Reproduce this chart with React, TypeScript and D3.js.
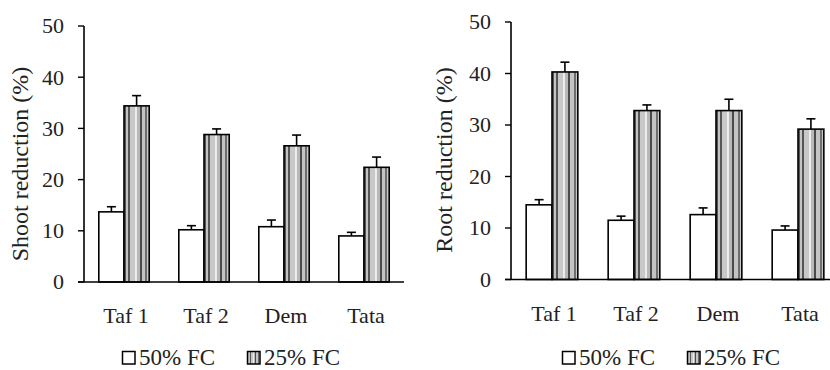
import * as d3 from "d3";

const categories = ["Taf 1", "Taf 2", "Dem", "Tata"];
const seriesNames = ["50% FC", "25% FC"];
const yTicks = [0, 10, 20, 30, 40, 50];

const shoot50 = [13.7, 10.2, 10.8, 9.0];
const shoot50Err = [1.0, 0.8, 1.3, 0.7];
const shoot25 = [34.4, 28.8, 26.6, 22.4];
const shoot25Err = [2.0, 1.1, 2.1, 2.0];

const root50 = [14.5, 11.5, 12.6, 9.6];
const root50Err = [1.0, 0.8, 1.3, 0.8];
const root25 = [40.3, 32.8, 32.8, 29.2];
const root25Err = [1.9, 1.1, 2.2, 2.0];

const FONT = "'Liberation Serif', 'Times New Roman', serif";

// hard-stop grey stripes, like the original vertical-stripe fill
const stripes: [number, number, string][] = [
  [0, 0.08, "#555"],
  [0.08, 0.17, "#c4c4c4"],
  [0.17, 0.25, "#555"],
  [0.25, 0.42, "#c8c8c8"],
  [0.42, 0.52, "#ececec"],
  [0.52, 0.62, "#b8b8b8"],
  [0.62, 0.7, "#4a4a4a"],
  [0.7, 0.84, "#c4c4c4"],
  [0.84, 0.92, "#6e6e6e"],
  [0.92, 1, "#c8c8c8"],
];

type PanelProps = {
  x0: number;
  x1: number;
  yTop: number;
  yBottom: number;
  title: string;
  titleX: number;
  titleY: number;
  v50: number[];
  e50: number[];
  v25: number[];
  e25: number[];
  legendX: number;
};

const Panel = (p: PanelProps) => {
  const x = d3.scaleBand<string>().domain(categories).range([p.x0, p.x1]);
  const y = d3.scaleLinear().domain([0, 50]).range([p.yBottom, p.yTop]);
  const bw = x.step() * 0.315;

  const bars = categories.flatMap((c, i) => {
    const cx = (x(c) ?? 0) + x.bandwidth() / 2;
    return [
      { key: c + "a", x: cx - bw, v: p.v50[i], e: p.e50[i], fill: "#fff" },
      { key: c + "b", x: cx, v: p.v25[i], e: p.e25[i], fill: "url(#stripes)" },
    ];
  });

  return (
    <g>
      {bars.map((b) => (
        <g key={b.key}>
          <line
            x1={b.x + bw / 2}
            x2={b.x + bw / 2}
            y1={y(b.v)}
            y2={y(b.v + b.e)}
            stroke="#000"
            strokeWidth={1.6}
          />
          <line
            x1={b.x + bw / 2 - 4.5}
            x2={b.x + bw / 2 + 4.5}
            y1={y(b.v + b.e)}
            y2={y(b.v + b.e)}
            stroke="#000"
            strokeWidth={1.6}
          />
          <rect
            x={b.x}
            y={y(b.v)}
            width={bw}
            height={y(0) - y(b.v)}
            fill={b.fill}
            stroke="#000"
            strokeWidth={1.6}
          />
        </g>
      ))}

      {/* y axis */}
      <line x1={p.x0} x2={p.x0} y1={y(50)} y2={y(0)} stroke="#000" strokeWidth={1.6} />
      {yTicks.map((t) => (
        <g key={t}>
          <line x1={p.x0 - 6} x2={p.x0} y1={y(t)} y2={y(t)} stroke="#000" strokeWidth={1.4} />
          <text
            x={p.x0 - 20}
            y={y(t)}
            dy="0.34em"
            textAnchor="end"
            fontSize={22}
            fill="#222"
          >
            {t}
          </text>
        </g>
      ))}
      {/* x axis */}
      <line x1={p.x0 - 6} x2={p.x1} y1={y(0)} y2={y(0)} stroke="#000" strokeWidth={1.6} />
      {categories.map((c) => (
        <text
          key={c}
          x={(x(c) ?? 0) + x.bandwidth() / 2 + 2}
          y={p.yBottom + 41}
          textAnchor="middle"
          fontSize={22}
          fill="#222"
        >
          {c}
        </text>
      ))}

      <text
        transform={`translate(${p.titleX},${p.titleY}) rotate(-90)`}
        textAnchor="middle"
        fontSize={24}
        fill="#222"
      >
        {p.title}
      </text>

      {/* legend */}
      {seriesNames.map((s, i) => (
        <g key={s} transform={`translate(${p.legendX + i * 125},351)`}>
          <rect
            x={0.5}
            y={0.5}
            width={12.5}
            height={12.5}
            fill={i === 0 ? "#fff" : "url(#stripes)"}
            stroke="#000"
            strokeWidth={1.5}
          />
          <text x={17} y={14} fontSize={23} fill="#222">
            {s}
          </text>
        </g>
      ))}
    </g>
  );
};

export default function App() {
  return (
    <svg
      width={830}
      height={370}
      style={{ position: "absolute", left: 0, top: 0, background: "#fff" }}
      fontFamily={FONT}
    >
      <defs>
        <linearGradient id="stripes" x1="0" x2="1" y1="0" y2="0">
          {stripes.flatMap(([a, b, c], i) => [
            <stop key={i + "s"} offset={a} stopColor={c} />,
            <stop key={i + "e"} offset={b} stopColor={c} />,
          ])}
        </linearGradient>
      </defs>
      <Panel
        x0={84}
        x1={404}
        yTop={26}
        yBottom={282}
        title="Shoot reduction (%)"
        titleX={28}
        titleY={164}
        v50={shoot50}
        e50={shoot50Err}
        v25={shoot25}
        e25={shoot25Err}
        legendX={122}
      />
      <Panel
        x0={511}
        x1={839}
        yTop={22}
        yBottom={279.5}
        title="Root reduction (%)"
        titleX={452}
        titleY={160}
        v50={root50}
        e50={root50Err}
        v25={root25}
        e25={root25Err}
        legendX={562}
      />
    </svg>
  );
}
